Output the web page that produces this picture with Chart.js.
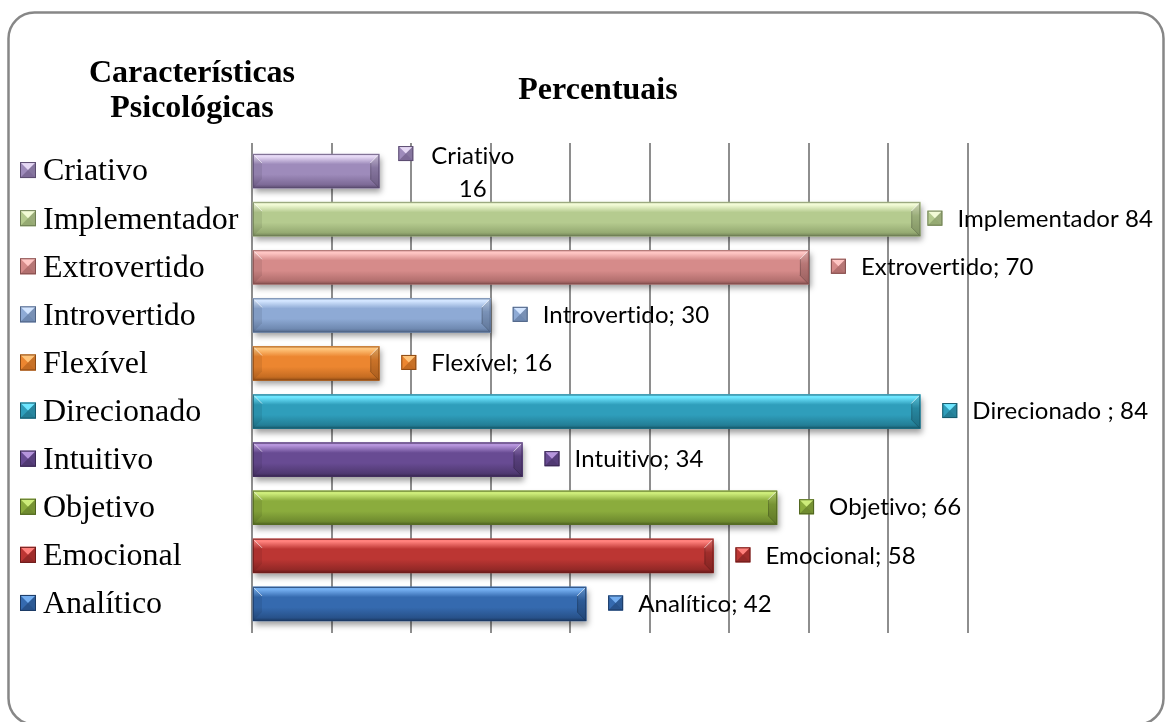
<!DOCTYPE html>
<html>
<head>
<meta charset="utf-8">
<script src="https://cdn.jsdelivr.net/npm/chart.js@4/dist/chart.umd.min.js"></script>
<style>
  html, body { margin: 0; padding: 0; background: #ffffff; }
  #wrap { position: relative; width: 1165px; height: 722px; }
</style>
</head>
<body>
<div id="wrap"><canvas id="chart" width="1165" height="722"></canvas></div>
<script>
// Categories, top to bottom
const categories = ['Criativo', 'Implementador', 'Extrovertido', 'Introvertido', 'Flexível',
                    'Direcionado', 'Intuitivo', 'Objetivo', 'Emocional', 'Analítico'];
// Percent values
const values = [16, 84, 70, 30, 16, 84, 34, 66, 58, 42];
// Text placed between name and value in each data label
const separators = ['\n', ' ', '; ', '; ', '; ', ' ; ', '; ', '; ', '; ', '; '];
// Value axis
const axisMin = 0;
const axisMax = 90;
const axisStep = 10;

const chartTitle = 'Percentuais';
const legendTitle = ['Características', 'Psicológicas'];

// Bevelled bar colours: highlight, body, shade, edge
const palette = [
  { hi: '#e6d9f5', mid: '#9e8bbb', lo: '#7d6a97', edge: '#5b4c70' },
  { hi: '#f2fbd6', mid: '#b5cb8f', lo: '#95aa72', edge: '#6f7f55' },
  { hi: '#ffc6c4', mid: '#d68b8a', lo: '#b26f6e', edge: '#844f4e' },
  { hi: '#d3e5ff', mid: '#8eaad5', lo: '#6f89b1', edge: '#4f6384' },
  { hi: '#ffc47a', mid: '#ec8630', lo: '#c56c22', edge: '#8d4b14' },
  { hi: '#6ee6ff', mid: '#2f9ebb', lo: '#237e96', edge: '#185a6c' },
  { hi: '#b695dc', mid: '#684b93', lo: '#503972', edge: '#392852' },
  { hi: '#cdec7a', mid: '#8bac3d', lo: '#6f8b2f', edge: '#4f6420' },
  { hi: '#ff817c', mid: '#bc3633', lo: '#942927', edge: '#6a1c1b' },
  { hi: '#74aef0', mid: '#356aaf', lo: '#28528b', edge: '#1c3a64' }
];

const SERIF = '"Liberation Serif", "Times New Roman", serif';
const SANS = 'Lato, "Open Sans", sans-serif';

function barGeom(el) {
  const p = el.getProps(['x', 'y', 'base', 'height'], true);
  return { x1: Math.min(p.base, p.x), x2: Math.max(p.base, p.x),
           y1: p.y - p.height / 2, y2: p.y + p.height / 2, cy: p.y };
}

function drawBevelBar(ctx, g, c) {
  const { x1, x2, y1, y2 } = g;
  const h = y2 - y1;
  const b = Math.min(9, (x2 - x1) / 2);
  // body
  const grad = ctx.createLinearGradient(0, y1, 0, y2);
  grad.addColorStop(0, c.hi);
  grad.addColorStop(0.08, c.hi);
  grad.addColorStop(0.3, c.mid);
  grad.addColorStop(0.6, c.mid);
  grad.addColorStop(0.9, c.lo);
  grad.addColorStop(1, c.edge);
  ctx.fillStyle = grad;
  ctx.fillRect(x1, y1, x2 - x1, h);
  // right facet
  ctx.save();
  ctx.beginPath();
  ctx.moveTo(x2, y1); ctx.lineTo(x2, y2); ctx.lineTo(x2 - b, y2 - b); ctx.lineTo(x2 - b, y1 + b);
  ctx.closePath();
  const rg = ctx.createLinearGradient(0, y1, 0, y2);
  rg.addColorStop(0, c.hi);
  rg.addColorStop(0.4, c.mid);
  rg.addColorStop(1, c.lo);
  ctx.fillStyle = rg;
  ctx.fill();
  ctx.globalAlpha = 0.14;
  ctx.fillStyle = '#000';
  ctx.fill();
  ctx.restore();
  // left facet
  ctx.save();
  ctx.beginPath();
  ctx.moveTo(x1, y1); ctx.lineTo(x1 + b, y1 + b); ctx.lineTo(x1 + b, y2 - b); ctx.lineTo(x1, y2);
  ctx.closePath();
  ctx.globalAlpha = 0.08;
  ctx.fillStyle = '#000';
  ctx.fill();
  ctx.restore();
  // diagonal facet edges
  ctx.save();
  ctx.lineWidth = 1;
  ctx.strokeStyle = 'rgba(255,255,255,0.6)';
  ctx.beginPath();
  ctx.moveTo(x2 - 0.5, y1 + 0.5); ctx.lineTo(x2 - b, y1 + b);
  ctx.moveTo(x1 + 0.5, y1 + 0.5); ctx.lineTo(x1 + b, y1 + b);
  ctx.stroke();
  ctx.strokeStyle = 'rgba(0,0,0,0.2)';
  ctx.beginPath();
  ctx.moveTo(x2 - 0.5, y2 - 0.5); ctx.lineTo(x2 - b, y2 - b);
  ctx.moveTo(x2 - b + 0.5, y1 + b); ctx.lineTo(x2 - b + 0.5, y2 - b);
  ctx.stroke();
  // outline
  ctx.strokeStyle = c.edge;
  ctx.globalAlpha = 0.75;
  ctx.strokeRect(x1 + 0.5, y1 + 0.5, x2 - x1 - 1, h - 1);
  ctx.restore();
}

function drawMarker(ctx, x, y, s, c) {
  // small bevelled square: light top, dark bottom
  const cx = x + s / 2, cy = y + s / 2;
  ctx.save();
  ctx.fillStyle = c.mid;
  ctx.fillRect(x, y, s, s);
  ctx.beginPath();
  ctx.moveTo(x, y); ctx.lineTo(x + s, y); ctx.lineTo(cx, cy); ctx.closePath();
  ctx.fillStyle = c.hi; ctx.fill();
  ctx.beginPath();
  ctx.moveTo(x, y + s); ctx.lineTo(x + s, y + s); ctx.lineTo(cx, cy); ctx.closePath();
  ctx.fillStyle = c.lo; ctx.fill();
  ctx.beginPath();
  ctx.moveTo(x + s, y); ctx.lineTo(x + s, y + s); ctx.lineTo(cx, cy); ctx.closePath();
  ctx.globalAlpha = 0.15; ctx.fillStyle = '#000'; ctx.fill();
  ctx.globalAlpha = 1;
  ctx.strokeStyle = c.edge;
  ctx.lineWidth = 1;
  ctx.strokeRect(x + 0.5, y + 0.5, s - 1, s - 1);
  ctx.restore();
}

function roundRect(ctx, x, y, w, h, r) {
  ctx.beginPath();
  ctx.moveTo(x + r, y);
  ctx.lineTo(x + w - r, y); ctx.arcTo(x + w, y, x + w, y + r, r);
  ctx.lineTo(x + w, y + h - r); ctx.arcTo(x + w, y + h, x + w - r, y + h, r);
  ctx.lineTo(x + r, y + h); ctx.arcTo(x, y + h, x, y + h - r, r);
  ctx.lineTo(x, y + r); ctx.arcTo(x, y, x + r, y, r);
  ctx.closePath();
}

const framePlugin = {
  id: 'frame',
  beforeDraw(chart) {
    const ctx = chart.ctx;
    ctx.save();
    ctx.fillStyle = '#ffffff';
    ctx.fillRect(0, 0, chart.width, chart.height);
    roundRect(ctx, 8.5, 12.5, 1155, 712, 26);
    ctx.lineWidth = 2.5;
    ctx.strokeStyle = '#878787';
    ctx.stroke();
    ctx.fillStyle = '#000';
    ctx.textAlign = 'center';
    ctx.textBaseline = 'alphabetic';
    ctx.font = 'bold 32px ' + SERIF;
    ctx.fillText(legendTitle[0], 192, 82);
    ctx.fillText(legendTitle[1], 192, 117);
    ctx.fillText(chartTitle, 598, 99);
    ctx.restore();
  }
};

const barPlugin = {
  id: 'bevelBars',
  beforeDatasetsDraw(chart) {
    const ctx = chart.ctx;
    const meta = chart.getDatasetMeta(0);
    ctx.save();
    meta.data.forEach((el) => {
      const g = barGeom(el);
      ctx.shadowColor = 'rgba(0,0,0,0.38)';
      ctx.shadowBlur = 6;
      ctx.shadowOffsetX = 2;
      ctx.shadowOffsetY = 4;
      ctx.fillStyle = '#888';
      ctx.fillRect(g.x1, g.y1, g.x2 - g.x1, g.y2 - g.y1);
    });
    ctx.restore();
  },
  afterDatasetsDraw(chart) {
    const ctx = chart.ctx;
    const meta = chart.getDatasetMeta(0);
    meta.data.forEach((el, i) => drawBevelBar(ctx, barGeom(el), palette[i]));
  }
};

const sidePlugin = {
  id: 'sideLegendAndLabels',
  afterDraw(chart) {
    const ctx = chart.ctx;
    const meta = chart.getDatasetMeta(0);
    ctx.save();
    // legend at the left, one row per category
    ctx.textBaseline = 'middle';
    ctx.textAlign = 'left';
    ctx.fillStyle = '#000';
    ctx.font = '32px ' + SERIF;
    meta.data.forEach((el, i) => {
      const g = barGeom(el);
      drawMarker(ctx, 20, g.cy - 9, 16, palette[i]);
      ctx.fillText(categories[i], 43, g.cy + 1);
    });
    // value labels beside each bar (slight tracking keeps "ti" from joining)
    ctx.font = '24px ' + SANS;
    if ('letterSpacing' in ctx) ctx.letterSpacing = '0.1px';
    const rightLimit = 1153;
    meta.data.forEach((el, i) => {
      const g = barGeom(el);
      const lines = (categories[i] + separators[i] + values[i]).split('\n');
      const widths = lines.map((l) => ctx.measureText(l).width);
      const textW = Math.max(...widths);
      let x = g.x2 + 22;
      if (x + 30 + textW > rightLimit) x = rightLimit - 30 - textW;
      const tx = x + 30;
      if (lines.length === 1) {
        const cy = g.cy - 1;
        drawMarker(ctx, x, cy - 7.5, 15, palette[i]);
        ctx.textAlign = 'left';
        ctx.fillText(lines[0], tx, cy + 1);
      } else {
        const y0 = g.cy - 16;
        drawMarker(ctx, x - 3, y0 - 9, 15, palette[i]);
        ctx.textAlign = 'left';
        ctx.fillText(lines[0], tx, y0 + 1);
        ctx.textAlign = 'center';
        ctx.fillText(lines[1], tx + widths[0] / 2, y0 + 34);
      }
    });
    ctx.restore();
  }
};

new Chart(document.getElementById('chart'), {
  type: 'bar',
  data: {
    labels: categories,
    datasets: [{
      data: values,
      backgroundColor: palette.map((c) => c.mid),
      borderWidth: 0,
      barThickness: 34
    }]
  },
  options: {
    indexAxis: 'y',
    responsive: false,
    devicePixelRatio: 1,
    animation: false,
    events: [],
    layout: { padding: { left: 252, right: 197, top: 143, bottom: 89 } },
    plugins: { legend: { display: false }, tooltip: { enabled: false }, title: { display: false } },
    scales: {
      y: { display: false, offset: true },
      x: {
        position: 'bottom',
        min: axisMin, max: axisMax,
        ticks: { display: false, stepSize: axisStep },
        border: { display: false },
        grid: { color: '#8e8e8e', lineWidth: 2, drawTicks: true, tickLength: 5 },
        afterFit(s) { s.height = 5; }
      },
      x2: {
        position: 'top',
        min: axisMin, max: axisMax,
        ticks: { display: false, stepSize: axisStep },
        border: { display: false },
        grid: { color: '#8e8e8e', lineWidth: 2, drawOnChartArea: false, drawTicks: true, tickLength: 4 },
        afterFit(s) { s.height = 4; }
      }
    }
  },
  plugins: [framePlugin, barPlugin, sidePlugin]
});
</script>
</body>
</html>
